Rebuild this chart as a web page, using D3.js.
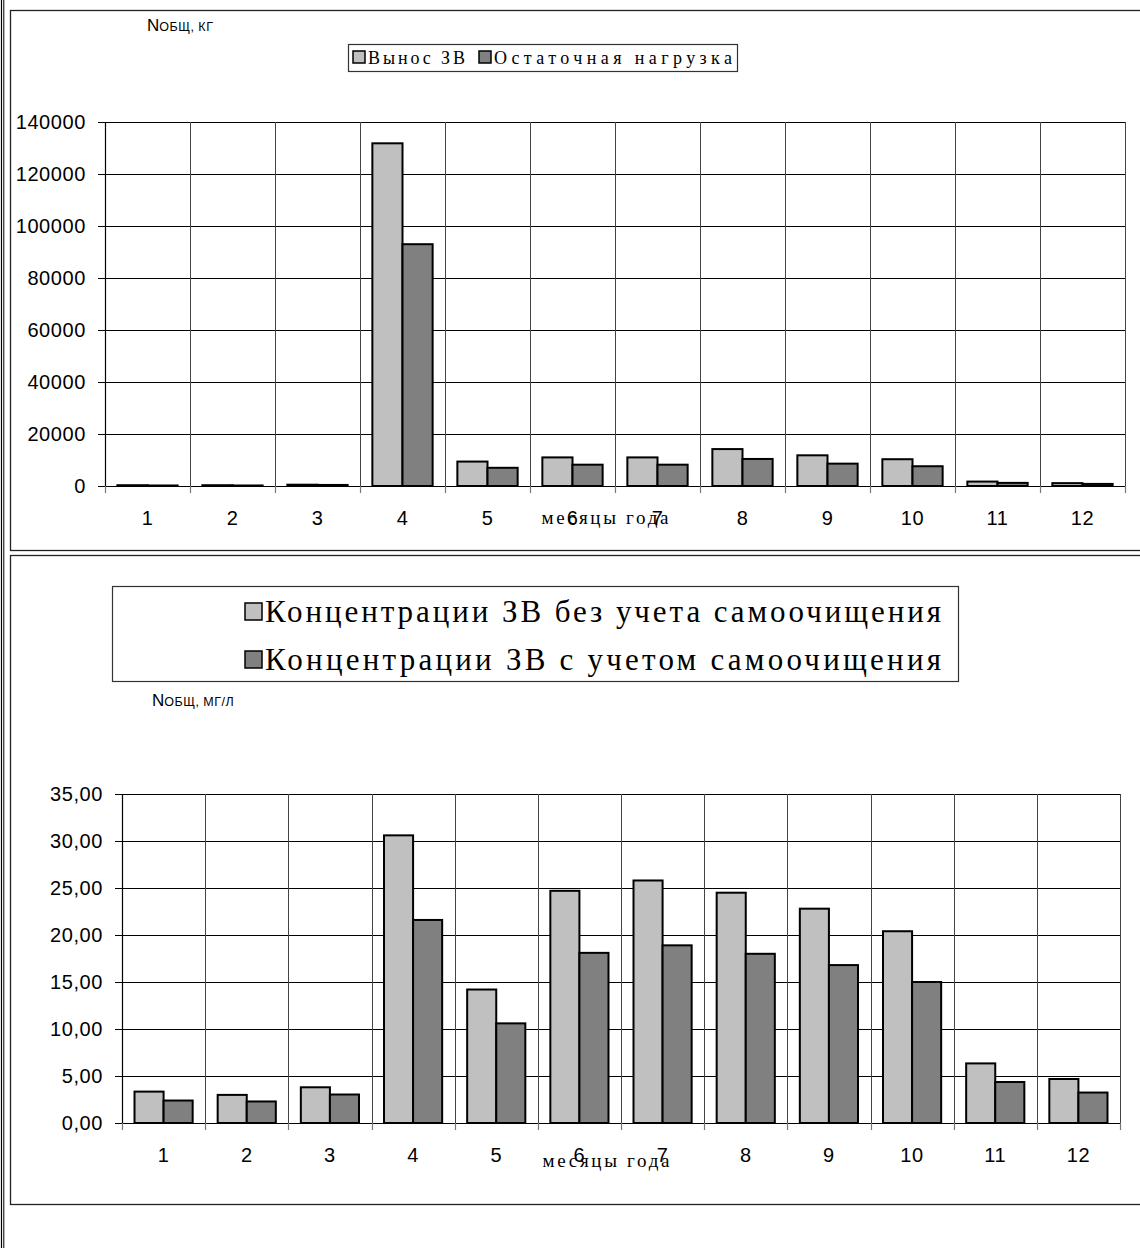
<!DOCTYPE html>
<html>
<head>
<meta charset="utf-8">
<script src="https://cdn.jsdelivr.net/npm/d3@7"></script>
<style>
  body { margin: 0; background: white; }
  text { fill: black; }
</style>
</head>
<body>
<div id="container"></div>
<script>
let w = 1140;
let h = 1248;

// months on the x axis
let months = ["1","2","3","4","5","6","7","8","9","10","11","12"];

// top chart, N total, kg
let loadLegend = ["Вынос ЗВ", "Остаточная нагрузка"];
let removalKg  = [300, 300, 500, 131800, 9400, 11000, 11000, 14200, 11800, 10300, 1700, 1100];
let residualKg = [200, 200, 400, 93000, 7000, 8200, 8200, 10400, 8600, 7600, 1200, 800];
let loadTicks = [0, 20000, 40000, 60000, 80000, 100000, 120000, 140000];

// bottom chart, N total, mg/l
let concLegend = ["Концентрации ЗВ без учета самоочищения", "Концентрации ЗВ с учетом самоочищения"];
let concNoSelf = [3.34, 2.99, 3.80, 30.6, 14.2, 24.7, 25.8, 24.5, 22.8, 20.4, 6.34, 4.68];
let concSelf   = [2.39, 2.29, 3.03, 21.6, 10.6, 18.1, 18.9, 18.0, 16.8, 15.0, 4.36, 3.24];
let concTicks = [0, 5, 10, 15, 20, 25, 30, 35];

let colors = ["#c0c0c0", "#808080"];

let viz = d3.select("#container")
  .append("svg")
    .attr("width", w)
    .attr("height", h)
    .style("background-color", "white")
;

// page frame
viz.append("line").attr("x1", 1.5).attr("x2", 1.5).attr("y1", 0).attr("y2", h).attr("stroke", "black").attr("stroke-width", 1.2);
viz.append("line").attr("x1", 3.8).attr("x2", 3.8).attr("y1", 0).attr("y2", h).attr("stroke", "black").attr("stroke-width", 1);
// chart boxes
viz.append("rect").attr("x", 10.5).attr("y", 10.5).attr("width", 1200).attr("height", 540)
  .attr("fill", "none").attr("stroke", "#222").attr("stroke-width", 1.3);
viz.append("rect").attr("x", 10.5).attr("y", 555.5).attr("width", 1200).attr("height", 649)
  .attr("fill", "none").attr("stroke", "#222").attr("stroke-width", 1.3);

function drawChart(cfg){
  let g = viz.append("g");

  let xScale = d3.scaleBand().domain(months).range([cfg.left, cfg.right]).paddingInner(0).paddingOuter(0);
  let inner = d3.scaleBand().domain([0, 1])
    .range([0, xScale.bandwidth()]).paddingInner(0).paddingOuter(cfg.pad);
  let yScale = d3.scaleLinear().domain([0, d3.max(cfg.ticks)]).range([cfg.bottom, cfg.top]);

  // horizontal grid
  g.selectAll(".hgrid").data(cfg.ticks).enter()
    .append("line")
      .attr("x1", cfg.left - 7)
      .attr("x2", cfg.right)
      .attr("y1", d => Math.round(yScale(d)) + 0.5)
      .attr("y2", d => Math.round(yScale(d)) + 0.5)
      .attr("stroke", "black")
      .attr("stroke-width", 1)
  ;
  // vertical grid at category borders + ticks below
  let borders = months.map(m => xScale(m)).concat([cfg.right]);
  g.selectAll(".vgrid").data(borders).enter()
    .append("line")
      .attr("x1", d => Math.round(d) + 0.5)
      .attr("x2", d => Math.round(d) + 0.5)
      .attr("y1", cfg.top)
      .attr("y2", cfg.bottom)
      .attr("stroke", "#444")
      .attr("stroke-width", 1)
  ;
  g.selectAll(".xtick").data(borders).enter()
    .append("line")
      .attr("x1", d => Math.round(d) + 0.5)
      .attr("x2", d => Math.round(d) + 0.5)
      .attr("y1", cfg.bottom)
      .attr("y2", cfg.bottom + 7)
      .attr("stroke", "#777")
      .attr("stroke-width", 1.2)
  ;
  g.append("line")
    .attr("x1", cfg.left + 0.5).attr("x2", cfg.left + 0.5)
    .attr("y1", cfg.top).attr("y2", cfg.bottom)
    .attr("stroke", "black").attr("stroke-width", 1.2);

  // y labels
  g.selectAll(".ylab").data(cfg.ticks).enter()
    .append("text")
      .text(cfg.fmt)
      .attr("x", cfg.left - 19)
      .attr("y", d => yScale(d) + 7)
      .attr("text-anchor", "end")
      .style("font-family", "'Liberation Sans', Arial, sans-serif")
      .style("font-size", "20px")
      .style("letter-spacing", "0.6px")
  ;
  // x labels
  g.selectAll(".xlab").data(months).enter()
    .append("text")
      .text(d => d)
      .attr("x", d => xScale(d) + xScale.bandwidth() / 2)
      .attr("y", cfg.bottom + 39)
      .attr("text-anchor", "middle")
      .style("font-family", "'Liberation Sans', Arial, sans-serif")
      .style("font-size", "20px")
      .style("letter-spacing", "0.6px")
  ;

  // bars
  let series = [cfg.a, cfg.b];
  series.forEach(function(vals, s){
    g.selectAll(".bar" + s).data(vals).enter()
      .append("rect")
        .attr("x", (d, i) => xScale(months[i]) + inner(s))
        .attr("y", d => yScale(d))
        .attr("width", inner.bandwidth())
        .attr("height", d => cfg.bottom - yScale(d))
        .attr("fill", colors[s])
        .attr("stroke", "black")
        .attr("stroke-width", 2)
    ;
  });

  // x axis title
  g.append("text")
    .text("месяцы года")
    .attr("x", cfg.titleX)
    .attr("y", cfg.titleY)
    .attr("text-anchor", "middle")
    .attr("textLength", 127)
    .attr("lengthAdjust", "spacing")
    .style("font-family", "'Liberation Serif', 'Times New Roman', serif")
    .style("font-size", "19px")
  ;

  // unit label
  let unit = g.append("text")
    .attr("x", cfg.unitX)
    .attr("y", cfg.unitY)
    .style("font-family", "'Liberation Sans Narrow', 'Liberation Sans', Arial, sans-serif")
    .style("font-size", "17px")
  ;
  unit.append("tspan").text("N");
  unit.append("tspan").text(cfg.unit).style("font-size", "12.5px").style("letter-spacing", "0.5px");
}

function drawLegend(cfg){
  let g = viz.append("g");
  g.append("rect")
    .attr("x", cfg.x + 0.5).attr("y", cfg.y + 0.5)
    .attr("width", cfg.w).attr("height", cfg.h)
    .attr("fill", "white").attr("stroke", "#333").attr("stroke-width", 1.2);
  cfg.items.forEach(function(label, i){
    let ix = cfg.itemX[i], iy = cfg.itemY[i];
    g.append("rect")
      .attr("x", ix).attr("y", iy - cfg.sw)
      .attr("width", cfg.sw).attr("height", cfg.sw)
      .attr("fill", colors[i]).attr("stroke", "black").attr("stroke-width", 1.5);
    g.append("text")
      .text(label)
      .attr("x", ix + cfg.sw + 3)
      .attr("y", iy + cfg.base)
      .attr("textLength", cfg.tl[i])
      .attr("lengthAdjust", "spacing")
      .style("font-family", "'Liberation Serif', 'Times New Roman', serif")
      .style("font-size", cfg.fs + "px")
    ;
  });
}

drawChart({
  left: 105, right: 1125, top: 122, bottom: 486,
  pad: 0.41, ticks: loadTicks, a: removalKg, b: residualKg,
  fmt: d => String(d),
  titleX: 605, titleY: 524,
  unitX: 147, unitY: 31, unit: "ОБЩ, КГ"
});

drawChart({
  left: 122, right: 1120, top: 794, bottom: 1123,
  pad: 0.43, ticks: concTicks, a: concNoSelf, b: concSelf,
  fmt: d => d3.format(".2f")(d).replace(".", ","),
  titleX: 606, titleY: 1167,
  unitX: 152, unitY: 706, unit: "ОБЩ, МГ/Л"
});

drawLegend({
  x: 348, y: 44, w: 389, h: 27,
  items: loadLegend, itemX: [353, 479], itemY: [63, 63], sw: 12,
  base: 1, fs: 18, tl: [97, 238]
});

drawLegend({
  x: 112, y: 586, w: 846, h: 95,
  items: concLegend, itemX: [245, 245], itemY: [620, 668], sw: 17,
  base: 2, fs: 31, tl: [676, 676]
});
</script>
</body>
</html>
